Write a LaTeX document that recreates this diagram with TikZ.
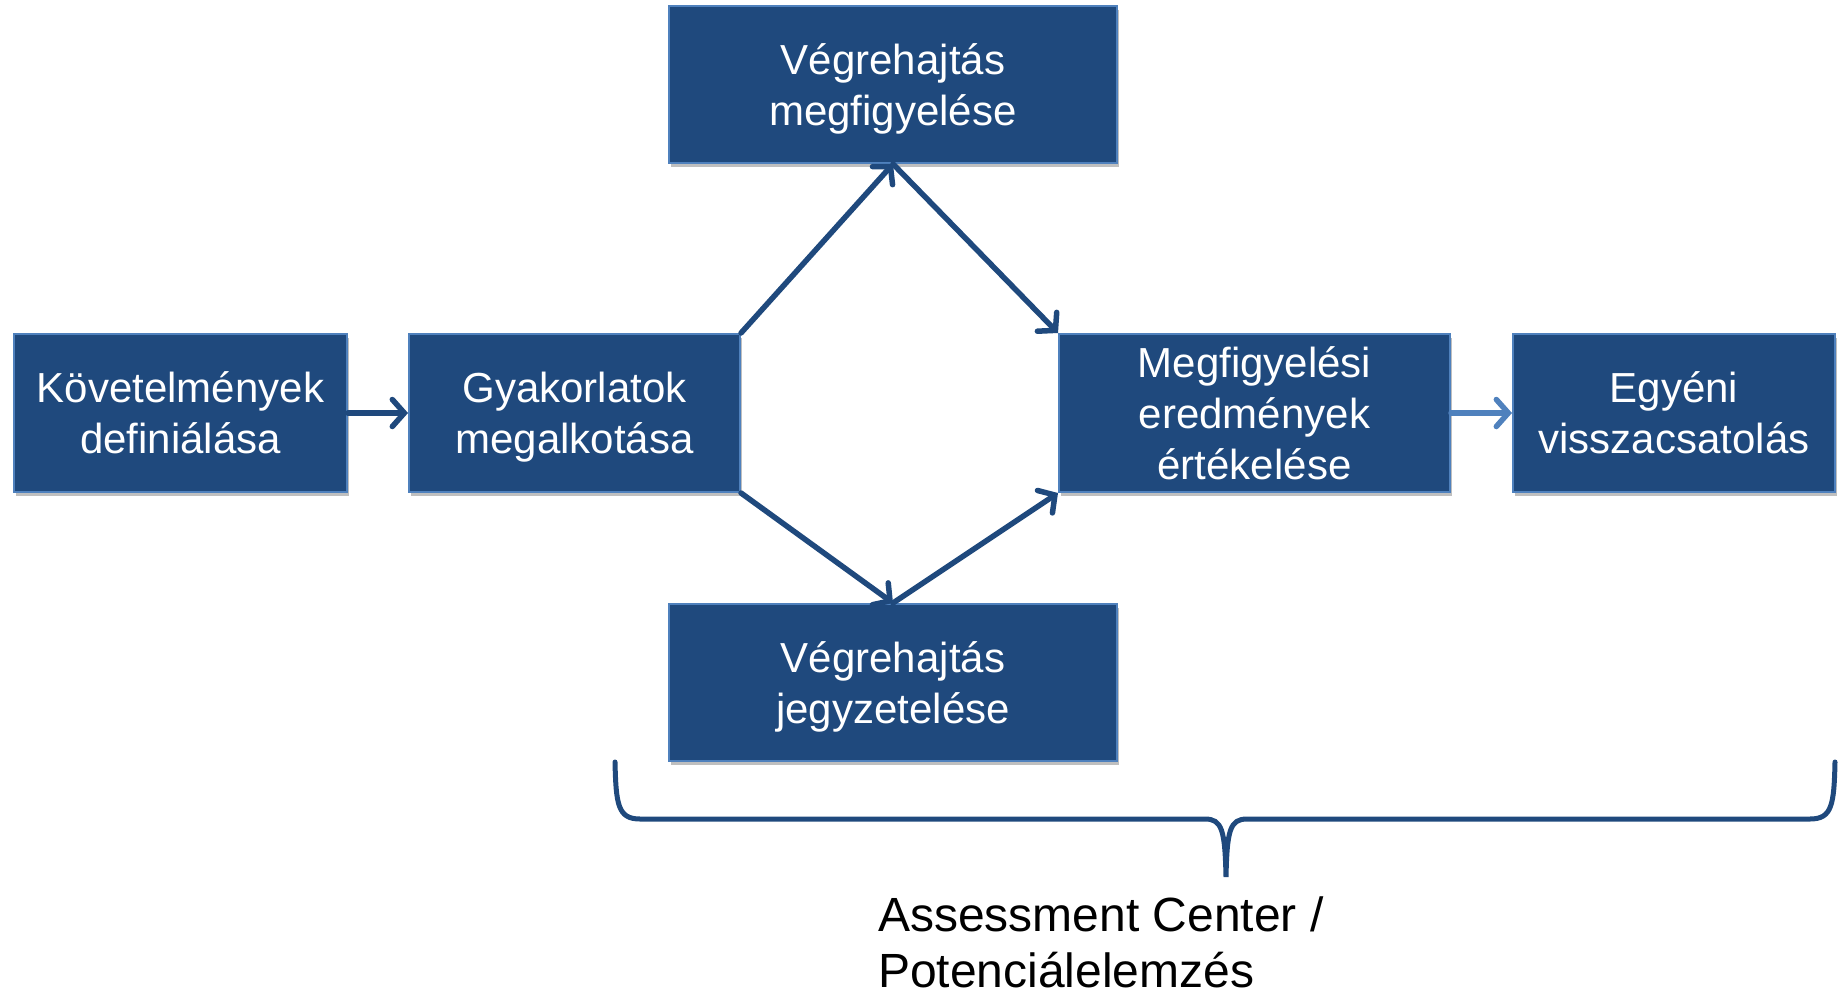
\documentclass[tikz,border=0pt]{standalone}
\usepackage{fontspec}
\setmainfont{Liberation Sans}
\usetikzlibrary{arrows.meta,shadows}
\definecolor{boxfill}{HTML}{1F497D}
\definecolor{boxline}{HTML}{4F81BD}
\begin{document}
\begin{tikzpicture}[x=1pt,y=-1pt,
  stepbox/.style={draw=boxline, line width=2pt, fill=boxfill, text=white,
    align=center, inner sep=0pt, text depth=0pt, font=\fontsize{42}{51}\selectfont,
    drop shadow={shadow xshift=2pt, shadow yshift=-4pt, opacity=0.25, fill=black}},
  flow/.style={draw=boxfill, line width=5.5pt, line cap=round,
    -{Straight Barb[length=12pt,width=27pt,line cap=round]}},
  bracket/.style={draw=boxfill, line width=5pt, line cap=round},
]
\useasboundingbox (0,0) rectangle (1842,993);

% process steps
\node[stepbox, minimum width=333pt, minimum height=158pt] (req)  at (180.5,413) {Követelmények\\definiálása};
\node[stepbox, minimum width=331pt, minimum height=158pt] (prac) at (574.5,413) {Gyakorlatok\\megalkotása};
\node[stepbox, minimum width=448pt, minimum height=157pt] (obs)  at (893,84.5)  {Végrehajtás\\megfigyelése};
\node[stepbox, minimum width=448pt, minimum height=157pt] (note) at (893,682.5) {Végrehajtás\\jegyzetelése};
\node[stepbox, minimum width=391pt, minimum height=158pt] (eval) at (1254.5,413) {Megfigyelési\\eredmények\\értékelése};
\node[stepbox, minimum width=322pt, minimum height=158pt] (fb)   at (1674,413)  {Egyéni\\visszacsatolás};

% connectors
\draw[flow] (req.east) -- (prac.west);
\draw[flow] (prac.north east) -- (obs.south);
\draw[flow] (obs.south) -- (eval.north west);
\draw[flow] (prac.south east) -- (note.north);
\draw[flow] (note.north) -- (eval.south west);
\draw[flow, draw=boxline] (eval.east) -- (fb.west);

% brace under the assessment steps
\draw[bracket] (615,762) .. controls (616,805) and (618,819) .. (640,819)
  -- (1205,819) .. controls (1222,819) and (1225,830) .. (1226,877)
  .. controls (1227,830) and (1230,819) .. (1247,819)
  -- (1810,819) .. controls (1832,819) and (1834,805) .. (1835,762);

% caption below the brace (anchored on the baseline of its last line)
\node[anchor=base west, align=left, inner sep=0pt, font=\fontsize{48}{56}\selectfont]
  (aclabel) at (878,987) {Assessment Center /\\Potenciálelemzés};
\end{tikzpicture}
\end{document}
